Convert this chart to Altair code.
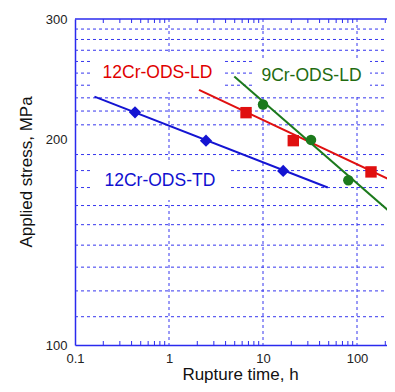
import altair as alt
import pandas as pd

# ---- data ----
time_ticks = [0.1, 1, 10, 100]
stress_ticks = [100, 200, 300]
grid_stress = [110, 120, 130, 140, 150, 160, 170, 180, 190,
               210, 220, 230, 240, 250, 260, 270, 280, 290]
grid_time = [1, 10, 100]
minor_time = [0.2, 0.3, 0.4, 0.5, 0.6, 0.7, 0.8, 0.9,
              2, 3, 4, 5, 6, 7, 8, 9,
              20, 30, 40, 50, 60, 70, 80, 90, 200]

series_names = ["12Cr-ODS-TD", "12Cr-ODS-LD", "9Cr-ODS-LD"]

td_time = [0.435, 2.475, 16.4]
td_stress = [219.1, 199.1, 179.8]
ld12_time = [6.6, 21.0, 140.9]
ld12_stress = [218.8, 199.1, 179.2]
ld9_time = [10.0, 32.4, 80.9]
ld9_stress = [224.9, 199.6, 174.2]

td_fit_time = [0.161, 48.8]
td_fit_stress = [231.0, 170.0]
ld12_fit_time = [2.085, 235.0]
ld12_fit_stress = [236.3, 174.0]
ld9_fit_time = [4.95, 212.0]
ld9_fit_stress = [247.1, 157.6]

label_text = ["12Cr-ODS-LD", "9Cr-ODS-LD", "12Cr-ODS-TD"]
label_time = [0.755, 32.8, 0.80]
label_stress = [249.7, 247.2, 173.5]

# ---- styles ----
W, H = 312, 326
AXIS_BLUE = "#2a2aee"
GRID_BLUE = "#3636ee"
colors = {"12Cr-ODS-TD": "#1414d2", "12Cr-ODS-LD": "#e01010", "9Cr-ODS-LD": "#1c7a1c"}
text_colors = {"12Cr-ODS-TD": "#1010d0", "12Cr-ODS-LD": "#e00000", "9Cr-ODS-LD": "#226b10"}
shapes = {"12Cr-ODS-TD": "diamond", "12Cr-ODS-LD": "square", "9Cr-ODS-LD": "circle"}
sizes = {"12Cr-ODS-TD": 150, "12Cr-ODS-LD": 130, "9Cr-ODS-LD": 110}
mask_w = {"12Cr-ODS-LD": 134, "9Cr-ODS-LD": 117, "12Cr-ODS-TD": 138}
FONT = "Liberation Sans"

xscale = alt.Scale(type="log", domain=[0.1, 0.1 * 10 ** (W / 94)], nice=False)
yscale = alt.Scale(type="log", domain=[100, 300], nice=False)

pts = {
    series_names[0]: pd.DataFrame({"time": td_time, "stress": td_stress}),
    series_names[1]: pd.DataFrame({"time": ld12_time, "stress": ld12_stress}),
    series_names[2]: pd.DataFrame({"time": ld9_time, "stress": ld9_stress}),
}
fits = {
    series_names[0]: pd.DataFrame({"time": td_fit_time, "stress": td_fit_stress}),
    series_names[1]: pd.DataFrame({"time": ld12_fit_time, "stress": ld12_fit_stress}),
    series_names[2]: pd.DataFrame({"time": ld9_fit_time, "stress": ld9_fit_stress}),
}
labels = pd.DataFrame({"label": label_text, "time": label_time, "stress": label_stress})

# other layers leave the axis unspecified so it merges with the explicit one
X = alt.X("time:Q", scale=xscale)
Y = alt.Y("stress:Q", scale=yscale)

x_axis = alt.Axis(values=time_ticks, format="~g", ticks=False, grid=False,
                  domainColor=AXIS_BLUE, domainWidth=1.5, labelFlush=False,
                  labelFontSize=13, labelColor="#222222", labelPadding=7, labelFont=FONT,
                  title="Rupture time, h", titleFontSize=17, titleFontWeight="normal",
                  titleFont=FONT, titleColor="#111111", titleX=165, titleY=34,
                  titleAlign="center", titleBaseline="alphabetic")
y_axis = alt.Axis(values=stress_ticks, format="d", ticks=False, grid=False,
                  domainColor=AXIS_BLUE, domainWidth=1.5,
                  labelFontSize=13, labelColor="#222222", labelPadding=8, labelFont=FONT,
                  title="Applied stress, MPa", titleFontSize=17, titleFontWeight="normal",
                  titleFont=FONT, titleColor="#111111", titleX=-49, titleY=152.5,
                  titleAngle=270, titleAlign="center", titleBaseline="middle")

axes_df = pd.DataFrame({"time": [0.1, 100, 1], "stress": [100, 200, 300]})
axes_layer = alt.Chart(axes_df).mark_point(opacity=0).encode(
    x=alt.X("time:Q", scale=xscale, axis=x_axis),
    y=alt.Y("stress:Q", scale=yscale, axis=y_axis),
)

hgrid = alt.Chart(pd.DataFrame({"stress": grid_stress})).mark_rule(
    color=GRID_BLUE, strokeDash=[3, 3], strokeWidth=1
).encode(y=Y, x=alt.value(0), x2=alt.value(W))

vgrid = alt.Chart(pd.DataFrame({"time": grid_time})).mark_rule(
    color=GRID_BLUE, strokeDash=[3, 3], strokeWidth=1
).encode(x=X, y=alt.value(0), y2=alt.value(H))

minor_df = pd.DataFrame({"time": minor_time})
bottom_ticks = alt.Chart(minor_df).mark_rule(color=AXIS_BLUE, strokeWidth=1).encode(
    x=X, y=alt.value(H), y2=alt.value(H - 4))
top_ticks = alt.Chart(minor_df).mark_rule(color=AXIS_BLUE, strokeWidth=1).encode(
    x=X, y=alt.value(0), y2=alt.value(4))
top_border = alt.Chart(pd.DataFrame({"a": [0]})).mark_rule(
    color=AXIS_BLUE, strokeWidth=1.5
).encode(x=alt.value(0), x2=alt.value(W), y=alt.value(0))

masks = []
texts = []
for name in label_text:
    sub = labels[labels["label"] == name]
    masks.append(alt.Chart(sub).mark_rect(
        color="white", width=mask_w[name], height=37).encode(x=X, y=Y))
    texts.append(alt.Chart(sub).mark_text(
        fontSize=17.5, font=FONT, align="center", baseline="middle",
        color=text_colors[name]).encode(x=X, y=Y, text="label:N"))

lines = []
points = []
for name in series_names:
    lines.append(alt.Chart(fits[name]).mark_line(
        strokeWidth=2, color=colors[name], clip=True).encode(x=X, y=Y))
    points.append(alt.Chart(pts[name]).mark_point(
        filled=True, opacity=1, shape=shapes[name], size=sizes[name],
        color=colors[name]).encode(x=X, y=Y))

chart = alt.layer(
    axes_layer, hgrid, vgrid, *masks, bottom_ticks, top_ticks, top_border,
    *lines, *points, *texts
).properties(
    width=W, height=H,
    autosize=alt.AutoSizeParams(type="none"),
    padding={"left": 67, "top": 11, "right": 0, "bottom": 39},
).configure_view(stroke=None)

chart.save("out.html", embed_options={"renderer": "svg", "actions": False})
